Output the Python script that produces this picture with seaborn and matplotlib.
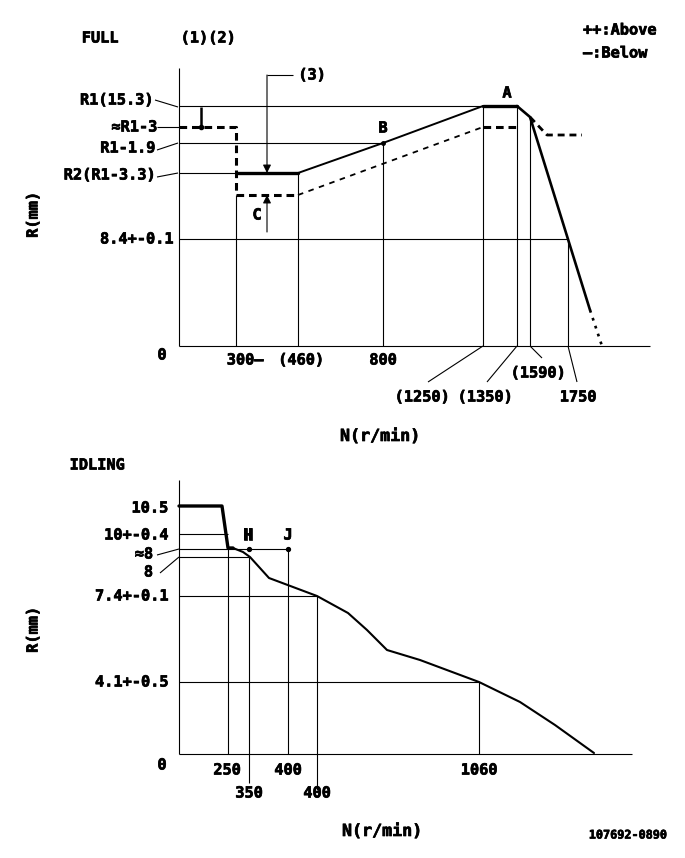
import matplotlib
matplotlib.use("Agg")
import matplotlib.pyplot as plt
import matplotlib.patheffects as pe
import seaborn as sns
import pandas as pd

sns.set_theme(style="white")
plt.rcParams['font.family'] = ['DejaVu Sans Mono', 'DejaVu Sans']
plt.rcParams['font.weight'] = 'bold'
plt.rcParams['text.color'] = 'black'
plt.rcParams['lines.scale_dashes'] = False

# ---------------- FULL (schematic positions) ----------------
full_levels = {"R1": 240, "R1-3": 219, "R1-1.9": 203, "R2": 173, "8.4": 107}
full_x = {"300": 57, "460": 119, "800": 204, "1250": 304, "1350": 338, "1590": 351, "1750": 389}
full_ylabels = ["R1(15.3)", "≈R1-3", "R1-1.9", "R2(R1-3.3)", "8.4+-0.1"]
full_xlabels = ["300—", "(460)", "800", "(1250)", "(1350)", "(1590)", "1750"]

above_x1 = [57, 119]; above_y1 = [173, 173]
above_x2 = [119, 204, 304]; above_y2 = [173, 203, 240]
above_x3 = [304, 338]; above_y3 = [240, 240]
above_x4 = [338, 351, 411]; above_y4 = [240, 229, 36]
above_x5 = [411, 423]; above_y5 = [36, 0]

below_x1 = [0, 57, 57, 119]; below_y1 = [219, 219, 151, 151]
below_x2 = [119, 304]; below_y2 = [151, 219]
below_x3 = [304, 338]; below_y3 = [219, 219]
below_x4 = [351, 368, 403]; below_y4 = [229, 211, 211]

# ---------------- IDLING ----------------
idl_levels = {"10.5": 248, "10": 220, "~8": 205, "8": 197, "7.4": 158, "4.1": 72}
idl_x = {"250": 49, "350": 70, "400J": 109, "400": 138, "1060": 300}
idl_curve_x = [54, 64, 71, 90, 138, 169, 188, 208, 241, 300, 341, 376, 415]
idl_curve_y = [206, 202, 197, 176, 158, 141, 124, 104, 94, 72, 52, 29, 1]
idl_thick_x = [0, 43, 49, 54]
idl_thick_y = [248, 248, 206, 206]

FS = 11
K = "black"
THIN = 0.8
HEAVY = [pe.withStroke(linewidth=0.5, foreground="black")]

fig = plt.figure(figsize=(6.85, 8.58), dpi=100)
ax1 = fig.add_axes([0, 428 / 858, 1, 430 / 858])
ax2 = fig.add_axes([0, 0, 1, 428 / 858])
for ax in (ax1, ax2):
    ax.set_axis_off()
    ax.set_xlim(-179, 506)
ax1.set_ylim(-84, 346)
ax2.set_ylim(-104, 324)


def seg(ax, xs, ys, lw=THIN, **kw):
    ax.plot(xs, ys, color=K, lw=lw, solid_capstyle="butt", **kw)


def txt(ax, x, y, s, fs=FS, **kw):
    kw.setdefault("ha", "center")
    kw.setdefault("va", "center")
    ax.text(x, y, s, fontsize=fs, color=K, path_effects=HEAVY, **kw)


def curve(ax, xs, ys, lw, dashes=None):
    df = pd.DataFrame({"x": xs, "y": ys})
    l = sns.lineplot(data=df, x="x", y="y", ax=ax, color=K, lw=lw, sort=False,
                     estimator=None)
    if dashes is not None:
        l.lines[-1].set_dashes(dashes)
    ax.set_xlabel(""); ax.set_ylabel("")
    ax.set_axis_off()


# ---- FULL axes ----
L = full_levels; X = full_x
seg(ax1, [0, 0], [0, 278])
seg(ax1, [0, 471], [0, 0])
seg(ax1, [0, X["1250"]], [L["R1"], L["R1"]])
seg(ax1, [0, X["800"]], [L["R1-1.9"], L["R1-1.9"]])
seg(ax1, [0, X["300"]], [L["R2"], L["R2"]])
seg(ax1, [0, X["1750"]], [L["8.4"], L["8.4"]])
seg(ax1, [X["300"]] * 2, [0, 151])
seg(ax1, [X["460"]] * 2, [0, L["R2"]])
seg(ax1, [X["800"]] * 2, [0, L["R1-1.9"]])
seg(ax1, [X["1250"]] * 2, [0, L["R1"]])
seg(ax1, [X["1350"]] * 2, [0, L["R1"]])
seg(ax1, [X["1590"]] * 2, [0, 229])
seg(ax1, [X["1750"]] * 2, [0, L["8.4"]])

curve(ax1, above_x1, above_y1, 2.4)
curve(ax1, above_x2, above_y2, 1.4)
curve(ax1, above_x3, above_y3, 2.4)
curve(ax1, above_x4, above_y4, 1.9)
curve(ax1, above_x5, above_y5, 1.9, dashes=(2, 4))
curve(ax1, below_x1, below_y1, 2.2, dashes=(5.5, 3.5))
curve(ax1, below_x2, below_y2, 1.3, dashes=(4, 4))
curve(ax1, below_x3, below_y3, 2.2, dashes=(5.5, 3.5))
curve(ax1, below_x4, below_y4, 2.0, dashes=(5, 3.5))

# small marker tick
seg(ax1, [22, 22], [239, 219], lw=1.8)
ax1.plot([22], [219], "o", color=K, ms=3)

# (3) and C arrows
seg(ax1, [114, 88], [271, 271])
ax1.annotate("", xy=(88, 173), xytext=(88, 271),
             arrowprops=dict(arrowstyle="-|>", color=K, lw=THIN, mutation_scale=12,
                             shrinkA=0, shrinkB=0))
ax1.annotate("", xy=(88, 151), xytext=(88, 114),
             arrowprops=dict(arrowstyle="-|>", color=K, lw=THIN, mutation_scale=12,
                             shrinkA=0, shrinkB=0))
txt(ax1, 133, 271, "(3)")
txt(ax1, 78, 131, "C")
txt(ax1, X["1350"] - 10, 253, "A")
txt(ax1, X["800"], 218, "B")
ax1.plot([X["800"]], [L["R1-1.9"]], "o", color=K, ms=2.5)

# y labels with leaders
txt(ax1, -26, 246, full_ylabels[0], ha="right")
seg(ax1, [-24, -1], [246, 239])
txt(ax1, -22, 219, full_ylabels[1], ha="right")
seg(ax1, [-22, 0], [219, 219])
txt(ax1, -24, 198, full_ylabels[2], ha="right")
seg(ax1, [-22, -1], [196, 203])
txt(ax1, -24, 171, full_ylabels[3], ha="right")
seg(ax1, [-22, -1], [169, 173])
txt(ax1, -6, 107, full_ylabels[4], ha="right")
txt(ax1, -17, -9, "0")

# x labels
txt(ax1, 66, -14, full_xlabels[0])
txt(ax1, 122, -14, full_xlabels[1])
txt(ax1, 204, -14, full_xlabels[2])
txt(ax1, 243, -51, full_xlabels[3])
seg(ax1, [X["1250"], 249], [0, -36])
txt(ax1, 306, -51, full_xlabels[4])
seg(ax1, [X["1350"], 308], [0, -36])
txt(ax1, 359, -27, full_xlabels[5])
seg(ax1, [X["1590"], 363], [0, -12])
txt(ax1, 399, -51, full_xlabels[6])
seg(ax1, [X["1750"], 398], [0, -36])

txt(ax1, 201, -90, "N(r/min)", fs=FS + 1)
txt(ax1, -146, 131, "R(mm)", rotation=90)
txt(ax1, -79, 308, "FULL")
txt(ax1, 29, 308, "(1)(2)")
txt(ax1, 404, 316, "++:Above", ha="left")
txt(ax1, 404, 293, "—:Below", ha="left")

# ---- IDLING axes ----
L = idl_levels; X = idl_x
seg(ax2, [0, 0], [0, 274])
seg(ax2, [0, 453], [0, 0])
seg(ax2, [0, X["250"]], [L["10"], L["10"]])
seg(ax2, [0, X["400J"]], [L["~8"], L["~8"]])
seg(ax2, [0, X["350"]], [L["8"], L["8"]])
seg(ax2, [0, X["400"]], [L["7.4"], L["7.4"]])
seg(ax2, [0, X["1060"]], [L["4.1"], L["4.1"]])
seg(ax2, [X["250"]] * 2, [0, 206])
seg(ax2, [X["350"]] * 2, [-29, L["8"]])
seg(ax2, [X["400J"]] * 2, [0, L["~8"]])
seg(ax2, [X["400"]] * 2, [-36, L["7.4"]])
seg(ax2, [X["1060"]] * 2, [0, L["4.1"]])

curve(ax2, idl_thick_x, idl_thick_y, 2.4)
curve(ax2, idl_curve_x, idl_curve_y, 1.5)
ax2.plot([X["350"], X["400J"]], [L["~8"], L["~8"]], "o", color=K, ms=2.8, lw=0)
txt(ax2, X["350"] - 1, 219, "H")
txt(ax2, X["400J"], 219, "J")

txt(ax2, -11, 246, "10.5", ha="right")
txt(ax2, -11, 219, "10+-0.4", ha="right")
txt(ax2, -26, 200, "≈8", ha="right")
seg(ax2, [-22, 0], [199, 205])
txt(ax2, -26, 182, "8", ha="right")
seg(ax2, [-19, 0], [181, 197])
txt(ax2, -11, 158, "7.4+-0.1", ha="right")
txt(ax2, -11, 72, "4.1+-0.5", ha="right")
txt(ax2, -17, -11, "0")

txt(ax2, 48, -16, "250")
txt(ax2, 109, -16, "400")
txt(ax2, 300, -16, "1060")
txt(ax2, 70, -39, "350")
txt(ax2, 138, -39, "400")

txt(ax2, 203, -77, "N(r/min)", fs=FS + 1)
txt(ax2, -146, 124, "R(mm)", rotation=90)
txt(ax2, -82, 289, "IDLING")
txt(ax2, 449, -81, "107692-0890", fs=8.5)

fig.savefig("out.png", dpi=100, facecolor="white")
